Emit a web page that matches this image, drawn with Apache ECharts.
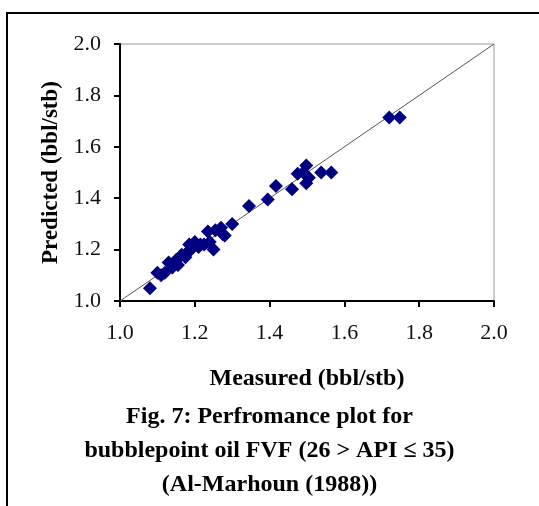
<!DOCTYPE html>
<html>
<head>
<meta charset="utf-8">
<script src="https://cdn.jsdelivr.net/npm/echarts@6/dist/echarts.min.js"></script>
<style>html,body{margin:0;padding:0;background:#fff;}#c{width:539px;height:506px;}</style>
</head>
<body>
<div id="c"></div>
<script>
const measured = [1.08,1.10,1.11,1.12,1.13,1.14,1.15,1.155,1.165,1.175,1.18,1.185,1.19,1.20,1.21,1.215,1.225,1.235,1.24,1.25,1.255,1.27,1.275,1.28,1.30,1.345,1.395,1.417,1.46,1.475,1.49,1.498,1.498,1.505,1.538,1.565,1.72,1.748];
const predicted = [1.05,1.11,1.10,1.11,1.15,1.13,1.16,1.14,1.18,1.17,1.19,1.22,1.20,1.23,1.21,1.22,1.22,1.27,1.23,1.20,1.275,1.285,1.26,1.255,1.30,1.37,1.395,1.447,1.435,1.495,1.50,1.527,1.458,1.48,1.50,1.50,1.714,1.714];
const lineX = [1.0, 2.0];
const lineY = [1.0, 2.0];
const xTicks = [1.0, 1.2, 1.4, 1.6, 1.8, 2.0];
const titleLines = ["Fig. 7: Perfromance plot for", "bubblepoint oil FVF (26 > API \u2264 35)", "(Al-Marhoun (1988))"];

const chart = echarts.init(document.getElementById('c'));
const serif = '"Liberation Serif", "DejaVu Serif", serif';
const pts = measured.map((m, i) => [m, predicted[i]]);
chart.setOption({
  animation: false,
  backgroundColor: '#fff',
  grid: { left: 120, right: 45, top: 44, bottom: 205, show: true, borderColor: '#999', borderWidth: 1 },
  xAxis: {
    type: 'value', min: 1.0, max: 2.0, interval: 0.2,
    name: 'Measured (bbl/stb)', nameLocation: 'middle', nameGap: 66,
    nameTextStyle: { fontFamily: serif, fontWeight: 'bold', fontSize: 24, color: '#000' },
    axisLine: { show: true, onZero: false, lineStyle: { color: '#000', width: 2 } },
    axisTick: { show: true, inside: false, length: 6, lineStyle: { color: '#000', width: 2 } },
    axisLabel: { fontFamily: serif, fontSize: 22, color: '#111', margin: 21, formatter: v => v.toFixed(1) },
    splitLine: { show: false }
  },
  yAxis: {
    type: 'value', min: 1.0, max: 2.0, interval: 0.2,
    name: 'Predicted (bbl/stb)', nameLocation: 'middle', nameGap: 55,
    nameTextStyle: { fontFamily: serif, fontWeight: 'bold', fontSize: 23, color: '#000' },
    axisLine: { show: true, onZero: false, lineStyle: { color: '#000', width: 2 } },
    axisTick: { show: true, inside: false, length: 6, lineStyle: { color: '#000', width: 2 } },
    axisLabel: { fontFamily: serif, fontSize: 22, color: '#111', margin: 19, formatter: v => v.toFixed(1) },
    splitLine: { show: false }
  },
  series: [
    {
      type: 'line', data: lineX.map((x, i) => [x, lineY[i]]), symbol: 'none',
      lineStyle: { color: '#555', width: 1 }, silent: true, z: 1
    },
    {
      type: 'scatter', data: pts, symbol: 'diamond', symbolSize: 14,
      itemStyle: { color: '#000080', opacity: 1 }, z: 2
    }
  ],
  graphic: [
    { type: 'rect', shape: { x: 7, y: 13, width: 700, height: 700 }, style: { fill: 'none', stroke: '#000', lineWidth: 2 } },
    ...titleLines.map((t, i) => ({
      type: 'text', left: 'center', top: 405 + i * 34,
      style: { text: t, fontFamily: serif, fontWeight: 'bold', fontSize: 24, fill: '#000' }
    }))
  ]
});
</script>
</body>
</html>
